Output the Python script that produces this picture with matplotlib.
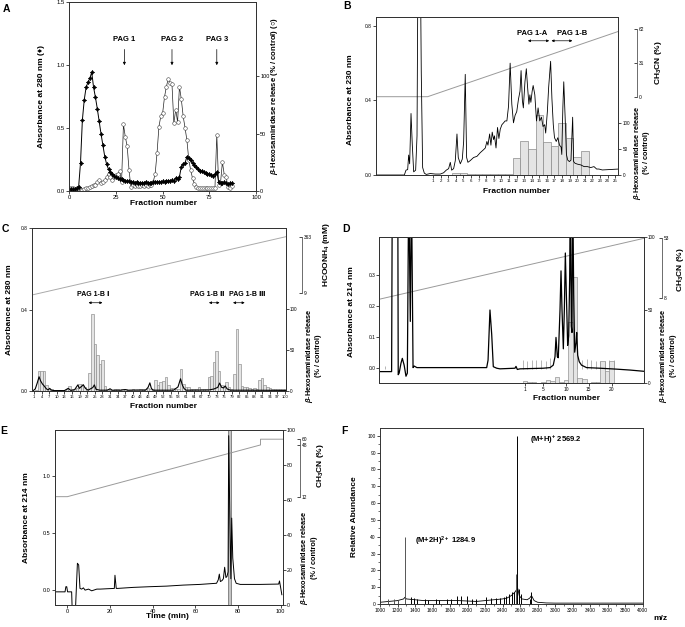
import numpy as np
import matplotlib
matplotlib.use("Agg")
import matplotlib.pyplot as plt
from matplotlib.ticker import FormatStrFormatter, MultipleLocator

plt.rcParams['font.family'] = ['Liberation Sans', 'DejaVu Sans']
plt.rcParams['mathtext.fontset'] = 'custom'
plt.rcParams['mathtext.rm'] = 'Liberation Sans:bold'
plt.rcParams['mathtext.it'] = 'Liberation Sans:italic:bold'
plt.rcParams['mathtext.bf'] = 'Liberation Sans:bold'

# ---------------- data ----------------
# Panel A : gel filtration
a_frac = list(range(0, 88))
a_abs280 = [0.01, 0.01, 0.01, 0.01, 0.02, 0.03, 0.22, 0.56, 0.72, 0.82,
            0.86, 0.89, 0.94, 0.82, 0.74, 0.65, 0.55, 0.45, 0.36, 0.27,
            0.21, 0.17, 0.15, 0.13, 0.12, 0.11, 0.10, 0.095, 0.09, 0.085,
            0.08, 0.075, 0.075, 0.07, 0.07, 0.065, 0.07, 0.065, 0.065, 0.06,
            0.065, 0.07, 0.065, 0.065, 0.06, 0.07, 0.07, 0.07, 0.07, 0.07,
            0.075, 0.07, 0.08, 0.075, 0.08, 0.085, 0.08, 0.10, 0.09, 0.11,
            0.19, 0.21, 0.22, 0.27, 0.26, 0.24, 0.22, 0.20, 0.19, 0.17,
            0.16, 0.155, 0.15, 0.14, 0.135, 0.13, 0.125, 0.12, 0.13, 0.15,
            0.07, 0.06, 0.06, 0.07, 0.06, 0.05, 0.06, 0.06]
a_hex = [2, 2, 2, 1.5, 2, 2, 1, 1, 1.5, 2,
         2.5, 3.5, 4, 5, 5, 8, 9, 7, 8, 9,
         12, 15, 12, 9, 12, 14, 15, 17, 8, 58,
         47, 39, 18, 3, 5, 4, 5, 4, 4, 5,
         4, 5, 4, 5, 5, 8, 15, 33, 56, 65,
         68, 82, 91, 98, 94, 93, 59, 71, 60, 91,
         80, 65, 55, 44, 27, 18, 11, 6, 3.5, 2,
         2, 2, 2, 2, 2, 2, 2, 2, 2, 49,
         5, 7, 25, 14, 12, 3, 2, 4]
a_pag_labels = ['PAG 1', 'PAG 2', 'PAG 3']
a_pag_frac = [29.5, 55, 79]

# Panel B : RP-HPLC (230 nm)
b_trace = [(-6.46, 0), (-2.77, 0), (-2.55, 0.026), (-2.33, 0.029), (-2.2, 0.107),
           (-2.07, 0.06), (-1.89, 0.33), (-1.72, 0.16), (-1.54, 0.017), (-1.28, 0.026),
           (-1.1, 0.21), (-0.97, 1.2), (-0.67, 1.2), (-0.54, 0.55), (-0.36, 0.04),
           (-0.14, 0.01), (0.12, 0.003), (0.65, 0.008), (1.3, 0.005), (1.96, 0.005),
           (2.4, 0.012), (2.75, 0.026), (3.06, 0.034), (3.28, 0.068), (3.46, 0.026),
           (3.72, 0.034), (3.94, 0.077), (4.16, 0.22), (4.33, 0.094), (4.6, 0.06),
           (4.86, 0.085), (5.04, 0.18), (5.25, 0.54), (5.43, 0.094), (5.6, 0.068),
           (5.9, 0.077), (6.35, 0.094), (6.79, 0.10), (7.23, 0.12), (7.67, 0.136),
           (7.89, 0.145), (8.1, 0.18), (8.24, 0.16), (8.46, 0.22), (8.63, 0.16),
           (8.8, 0.23), (8.98, 0.19), (9.1, 0.21), (9.3, 0.145), (9.5, 0.255),
           (9.68, 0.196), (9.86, 0.246), (10.08, 0.27), (10.3, 0.28), (10.5, 0.29),
           (10.73, 0.29), (10.95, 0.37), (11.16, 0.60), (11.38, 0.38), (11.6, 0.28),
           (11.81, 0.32), (12.03, 0.34), (12.25, 0.405), (12.46, 0.45), (12.6, 0.56),
           (12.77, 0.40), (12.9, 0.36), (13.11, 0.50), (13.29, 0.57), (13.46, 0.47),
           (13.63, 0.38), (13.76, 0.43), (13.89, 0.39), (14.06, 0.45), (14.19, 0.48),
           (14.41, 0.43), (14.63, 0.29), (14.84, 0.36), (15.06, 0.29), (15.28, 0.31),
           (15.49, 0.26), (15.71, 0.27), (15.84, 0.225), (16.06, 0.34), (16.23, 0.47),
           (16.49, 0.61), (16.66, 0.41), (16.84, 0.27), (17.0, 0.20), (17.23, 0.18),
           (17.44, 0.20), (17.66, 0.16), (17.87, 0.15), (17.96, 0.11), (18.1, 0.36),
           (18.22, 0.50), (18.4, 0.31), (18.57, 0.11), (18.74, 0.08), (18.96, 0.072),
           (19.17, 0.08), (19.39, 0.31), (19.52, 0.072), (19.7, 0.063), (20.04, 0.058),
           (20.47, 0.054), (20.9, 0.045), (21.34, 0.045), (21.77, 0.04), (22.2, 0.045),
           (22.55, 0.032), (22.85, 0.032), (23.29, 0.027), (25.45, 0.032)]
b_bar_frac = [4, 5, 6, 7, 8, 9, 10, 11, 12, 13, 14, 15, 16, 17, 18, 19, 20, 21]
b_bar_hex = [3, 3, 1, 1, 1, 1, 1, 1, 32, 64.5, 50, 115, 63, 55, 99, 72, 35, 46]
b_grad_frac = [-6.5, 0.3, 25.4]
b_grad_ch3cn = [0, 0, 60]
b_xticks = list(range(1, 26))

# Panel C : ion exchange
c_frac = list(range(1, 101))
c_hex = [0, 1, 24, 24, 24, 7, 3, 2, 1, 1,
         1, 1, 1, 2, 6, 2, 2, 4, 9, 8,
         5, 3, 22, 94, 58, 44, 33, 38, 6, 2,
         1, 1, 2, 2, 1, 2, 2, 1, 1, 2,
         1, 1, 2, 2, 3, 4, 3, 3, 13.5, 7,
         11, 12, 17.5, 7, 4, 4, 3, 3, 26.5, 9,
         5, 4.5, 3, 2, 2, 5, 3, 3, 3, 17,
         18.4, 36, 49, 24, 7, 6, 11, 4.5, 2, 21,
         75.5, 33, 6, 4.5, 5, 4, 2, 4, 3, 13.5,
         15.5, 7, 4.5, 4, 3, 3, 3, 2, 2, 2]
c_trace = [(0.5, 0.0), (1.5, 0.01), (2.3, 0.04), (3.0, 0.07), (3.6, 0.05), (4.3, 0.035),
           (5.0, 0.025), (5.8, 0.012), (6.5, 0.005), (7.2, 0.013), (7.9, 0.004), (9, 0.002),
           (13, 0.002), (14.5, 0.013), (15.5, 0.003), (17, 0.006), (18.3, 0.03), (18.9, 0.013),
           (19.5, 0.02), (20.5, 0.03), (21.3, 0.013), (22.3, 0.004), (24.2, 0.017), (24.8, 0.03),
           (25.5, 0.008), (27, 0.004), (30, 0.004), (31, 0.011), (31.8, 0.004), (35, 0.004),
           (37, 0.007), (38, 0.004), (42, 0.005), (45, 0.004), (46, 0.018), (46.7, 0.04),
           (47.3, 0.013), (48, 0.004), (50, 0.004), (56, 0.004), (57.8, 0.02), (58.8, 0.06),
           (59.5, 0.03), (60.2, 0.012), (61, 0.004), (70, 0.005), (72, 0.01), (73.5, 0.018),
           (74.2, 0.039), (75, 0.018), (75.8, 0.015), (76.4, 0.025), (77.2, 0.01), (78.5, 0.004),
           (85, 0.004), (100.4, 0.003)]
c_grad_frac = [0.1, 100.4]
c_grad_hcoonh4 = [-2, 367]
c_xticks = list(range(1, 101, 3))
c_pag_labels = ['PAG 1-B \u2160', 'PAG 1-B \u2161', 'PAG 1-B \u2162']
c_pag_center = [24.5, 69.5, 85.0]
c_pag_arrow = [(22.5, 28.0), (70.0, 74.2), (79.5, 84.1)]

# Panel D : RP-HPLC (214 nm)
d_trace = [(-30.95, -0.013), (-28.25, -0.013), (-28.1, 0.6), (-26.9, 0.6), (-26.8, -0.023),
           (-26.6, -0.018), (-26.2, 0.014), (-25.9, 0.03), (-25.5, 0.008), (-25.1, -0.028),
           (-24.8, -0.018), (-24.5, 0.6), (-24.15, 0.15), (-23.9, 0.6), (-23.55, 0.0),
           (-23.3, 0.005), (-22.7, 0.0), (-7.4, 0.0), (-7.1, 0.024), (-6.68, 0.187),
           (-6.3, 0.108), (-5.95, 0.003), (-5.2, -0.002), (-4.48, -0.004), (-1.19, -0.002),
           (-0.97, 0.004), (-0.68, -0.006), (-0.1, -0.004), (5.0, -0.002), (6.5, 0.0),
           (7.2, 0.008), (7.58, 0.035), (7.8, 0.098), (8.1, 0.035), (8.3, 0.032),
           (8.68, 0.187), (8.9, 0.314), (9.12, 0.187), (9.41, 0.061), (9.63, 0.187),
           (9.85, 0.372), (10.07, 0.24), (10.36, 0.072), (10.58, 0.103), (10.8, 0.29),
           (10.94, 0.6), (11.16, 0.135), (11.31, 0.114), (11.46, 0.6), (11.68, 0.24),
           (11.9, 0.05), (12.2, 0.082), (12.34, 0.114), (12.56, 0.04), (12.9, 0.019),
           (13.4, 0.008), (14.5, 0.0), (17.45, -0.002), (21.1, -0.005), (24.06, -0.008),
           (27.1, -0.012)]
d_bar_frac = [1, 2, 3, 5, 6, 7, 8, 9, 10, 11, 12, 13, 14, 16, 17, 18, 19, 20]
d_bar_hex = [1.5, 0.7, 0.3, 0.3, 2, 1.4, 4, 0.5, 1.8, 42, 73, 3, 2.3, 0.3, 0.2, 15, 8, 15]
d_mark_frac = [-29.8, 0.5, 1.5, 2.5, 3.5, 4.5, 5.5, 6.5, 12.5, 13.5, 14.5,
               15.5, 16.5, 17.5, 18.5, 19.5, 20.5]
d_mark_top = [0.005, 0.024, 0.022, 0.024, 0.024, 0.024, 0.022, 0.03, 0.045, 0.024, 0.028,
              0.024, 0.02, 0.022, 0.02, 0.024, 0.024]
d_grad_frac = [-30.95, 27.1]
d_grad_ch3cn = [7.3, 53]
d_xticks = [1, 5, 10, 15, 20]

# Panel E : final purification
e_trace = [(-5.8, -0.015), (-1.1, -0.015), (-0.7, 0.03), (-0.3, 0.03), (0.1, -0.015),
           (2.0, -0.015), (2.3, -0.2), (3.7, -0.2), (3.9, -0.12), (4.7, 0.235),
           (5.3, 0.22), (5.9, 0.015), (6.7, 0.009), (7.5, 0.02), (8.3, 0.0),
           (9.9, 0.009), (11.4, -0.006), (13.8, 0.009), (15.4, 0.009), (18.5, 0.012),
           (22.0, 0.015), (22.3, 0.13), (22.9, 0.015), (23.5, 0.015), (30.9, 0.024),
           (38.6, 0.03), (46.4, 0.035), (54.3, 0.044), (62.1, 0.05), (69.9, 0.06),
           (70.7, 0.09), (71.2, 0.14), (71.7, 0.075), (72.5, 0.084), (73.1, 0.10),
           (73.7, 0.20), (74.3, 0.11), (74.8, 0.12), (75.3, 0.16), (75.6, 1.35),
           (76.1, 0.66), (76.6, 0.10), (77.0, 0.63), (77.5, 0.28), (78.3, 0.10),
           (79.1, 0.06), (81, 0.05), (90.3, 0.05), (99, 0.053), (99.4, 0.08),
           (100, 0.015), (100.5, -0.04)]
e_bar_time = [75.8]
e_bar_hex = [100]
e_grad_time = [-5.8, 0, 90.5, 90.5, 100.9]
e_grad_ch3cn = [12, 12, 48, 60, 60]
e_ch3cn_ticks = [12, 48, 60]

# Panel F : mass spectrum
f_base_mz = [1000, 1100, 1200, 1270, 1285, 1300, 1400, 1500, 1700, 1900, 2100, 2200,
             2300, 2400, 2450, 2500, 2540, 2560, 2575, 2590, 2620, 2680, 2710, 2730,
             2760, 2800, 2900, 3000, 4000]
f_base_ab = [1, 1.5, 2, 3, 4, 3, 2.5, 2, 2, 2, 1.5, 2,
             2.5, 3, 3.5, 5, 7, 8.5, 9, 5, 3, 2.5, 3.5, 5,
             2, 1, 0.6, 0.5, 0.5]
f_peak_mz = [1097, 1161, 1211, 1284.9, 1352, 1390, 1428, 1515, 1553, 1637, 1675, 1770,
             1808, 1885, 1923, 1991, 2048, 2094, 2208, 2265, 2322, 2368, 2418, 2437,
             2475, 2505, 2532, 2551, 2569.2, 2589, 2608, 2711, 2730]
f_peak_ab = [3, 3, 2.5, 40, 4, 3.5, 3, 3, 2.5, 3, 2.5, 3,
             3, 4.5, 4.5, 5, 3, 3, 4, 3.5, 3.5, 3.5, 4, 4.5,
             6, 7, 7, 18, 100, 9, 6, 3, 7]

# ---------------- layout helpers ----------------
W, H = 685, 627
fig = plt.figure(figsize=(W / 100, H / 100), dpi=100)
fig.patch.set_facecolor('white')
PX2PT = 72 / 100


def rect(l, t, r, b):
    return [l / W, 1 - b / H, (r - l) / W, (b - t) / H]


def ftext(x, y, s, size=6.0, rot=0, weight='bold', **kw):
    fig.text(x / W, 1 - y / H, s, fontsize=size, rotation=rot, ha='center',
             va='center', fontweight=weight, **kw)


def style(ax, ls=4.0):
    ax.tick_params(direction='out', length=2, width=0.5, labelsize=ls, pad=1)
    for s in ax.spines.values():
        s.set_linewidth(0.7)
        s.set_color('#333333')


def third(ax, ylim, bounds, ticks, offset_px, labels=None, scale=None):
    a3 = ax.twinx()
    if scale is not None:
        a3.set_yscale('function', functions=scale)
    a3.set_ylim(*ylim)
    for s in ('top', 'bottom', 'left'):
        a3.spines[s].set_visible(False)
    a3.spines['right'].set_position(('outward', offset_px * PX2PT))
    a3.spines['right'].set_bounds(*bounds)
    a3.spines['right'].set_linewidth(0.6)
    a3.spines['right'].set_color('#555555')
    a3.set_yticks(ticks)
    if labels is not None:
        a3.set_yticklabels(labels)
    a3.tick_params(axis='y', direction='in', length=2, width=0.5, labelsize=3.5, pad=1.5)
    a3.set_zorder(2)
    return a3


def dbl_arrow(ax, x0, x1, y):
    ax.annotate('', xy=(x1, y), xytext=(x0, y),
                arrowprops=dict(arrowstyle='<|-|>', lw=0.5, color='k',
                                mutation_scale=3.5, shrinkA=0, shrinkB=0))


BAR_FC = '#e4e4e4'
BAR_EC = '#8a8a8a'
GRAD = '#9a9a9a'
beta_lbl = r'$\mathit{\beta}$-Hexosaminidase release'

# ---------------- Panel A ----------------
axA = fig.add_axes(rect(69.3, 1.5, 256, 190.7))
axA2 = axA.twinx()
axA.set_zorder(3)
axA.patch.set_visible(False)
axA2.plot(a_frac, a_hex, color='#222222', lw=0.5, marker='o', ms=2.6,
          mfc='white', mec='#444444', mew=0.4)
axA.plot(a_frac, a_abs280, color='k', lw=0.7, marker=(4, 1, 0), ms=3.2,
         mfc='k', mec='k', mew=0.4)
axA.set_xlim(0, 100)
axA.set_ylim(0, 1.5)
axA.set_xticks([0, 25, 50, 75, 100])
axA.set_yticks([0, 0.5, 1.0, 1.5])
axA.yaxis.set_major_formatter(FormatStrFormatter('%.1f'))
axA2.set_ylim(0, 165.5)
axA2.set_yticks([0, 50, 100])
style(axA, 4.2)
style(axA2, 4.0)
for lab, x in zip(a_pag_labels, a_pag_frac):
    axA.text(x, 1.2, lab, ha='center', va='center', fontsize=5.5, fontweight='bold')
    axA.annotate('', xy=(x, 0.995), xytext=(x, 1.12),
                 arrowprops=dict(arrowstyle='-|>', lw=0.5, color='k',
                                 mutation_scale=4, shrinkA=0, shrinkB=0))
ftext(41.7, 96.7, 'Absorbance at 280 nm (\u2666)', rot=90)
ftext(275, 96, beta_lbl + ' (% / control) (\u25cb)', rot=90, size=5.6)
ftext(163, 204, 'Fraction number')
ftext(6, 9, 'A', size=7.5)

# ---------------- Panel B ----------------
axB = fig.add_axes(rect(376, 17.3, 618.3, 175))
axB2 = axB.twinx()
axB3 = third(axB, (-72, 73), (0, 62), [0, 31, 62], 18.4)
axB.set_zorder(3)
axB.patch.set_visible(False)
axB2.bar(b_bar_frac, b_bar_hex, width=1.0, color=BAR_FC, edgecolor=BAR_EC, lw=0.5)
axB3.plot(b_grad_frac, b_grad_ch3cn, color=GRAD, lw=0.7)
bx, by = zip(*b_trace)
axB.plot(bx, by, color='k', lw=0.6)
axB.set_xlim(-6.5, 25.4)
axB.set_ylim(0, 0.846)
axB.set_yticks([0, 0.4, 0.8])
axB.yaxis.set_major_formatter(FormatStrFormatter('%.1f'))
axB.set_xticks(b_xticks)
axB2.set_ylim(0, 303)
axB2.set_yticks([0, 50, 100])
style(axB, 3.5)
style(axB2, 3.3)
axB.tick_params(axis='x', labelsize=3.2)
axB.text(14.0, 0.757, 'PAG 1-A', ha='center', va='center', fontsize=5.5, fontweight='bold')
axB.text(19.3, 0.757, 'PAG 1-B', ha='center', va='center', fontsize=5.5, fontweight='bold')
dbl_arrow(axB, 13.5, 16.3, 0.72)
dbl_arrow(axB, 16.6, 19.35, 0.72)
ftext(350, 100, 'Absorbance at 230 nm', rot=90)
ftext(658, 63, r'CH$_3$CN (%)', rot=90)
ftext(641, 153, beta_lbl + '\n(% / control)', rot=90, size=5.3, linespacing=1.1)
ftext(516.7, 191.7, 'Fraction number')
ftext(347, 6, 'B', size=7.5)

# ---------------- Panel C ----------------
axC = fig.add_axes(rect(31.7, 228.3, 286, 391))
axC2 = axC.twinx()
axC3 = third(axC, (-608.6, 419.9), (9, 363), [9, 363], 15.7)
axC.set_zorder(3)
axC.patch.set_visible(False)
axC2.bar(c_frac, c_hex, width=1.0, color=BAR_FC, edgecolor=BAR_EC, lw=0.45)
axC3.plot(c_grad_frac, c_grad_hcoonh4, color='#aaaaaa', lw=0.7)
cx, cy = zip(*c_trace)
axC.plot(cx, cy, color='k', lw=0.8)
axC.set_xlim(0.1, 100.4)
axC.set_ylim(0, 0.8)
axC.set_yticks([0, 0.4, 0.8])
axC.yaxis.set_major_formatter(FormatStrFormatter('%.1f'))
axC.set_xticks(c_xticks)
axC2.set_ylim(0, 199)
axC2.set_yticks([0, 50, 100])
style(axC, 3.5)
style(axC2, 3.3)
axC.tick_params(axis='x', labelsize=3.0)
for lab, xc, (x0, x1) in zip(c_pag_labels, c_pag_center, c_pag_arrow):
    axC.text(xc, 0.473, lab, ha='center', va='center', fontsize=5.0, fontweight='bold')
    dbl_arrow(axC, x0, x1, 0.434)
ftext(10, 310, 'Absorbance at 280 nm', rot=90)
ftext(326, 255, r'HCOONH$_4$ (mM)', rot=90)
ftext(313, 356, beta_lbl + '\n(% / control)', rot=90, size=5.3, linespacing=1.1)
ftext(163, 406.7, 'Fraction number')
ftext(5, 229, 'C', size=7.5)

# ---------------- Panel D ----------------
axD = fig.add_axes(rect(379.3, 237.3, 644, 382.7))
axD2 = axD.twinx()
axD3 = third(axD, (-55.3, 53.75), (8, 53), [8, 53], 17.7)
axD.set_zorder(3)
axD.patch.set_visible(False)
axD2.bar(d_bar_frac, d_bar_hex, width=1.0, color=BAR_FC, edgecolor=BAR_EC, lw=0.45)
axD3.plot(d_grad_frac, d_grad_ch3cn, color=GRAD, lw=0.7)
axD.vlines(d_mark_frac, -0.004, d_mark_top, color='#999999', lw=0.5)
dx, dy = zip(*d_trace)
axD.plot(dx, dy, color='k', lw=0.9)
axD.set_xlim(-30.95, 27.1)
axD.set_ylim(-0.049, 0.423)
axD.set_yticks([0, 0.1, 0.2, 0.3])
axD.yaxis.set_major_formatter(FormatStrFormatter('%.1f'))
axD.set_xticks(d_xticks)
axD2.set_ylim(0, 100)
axD2.set_yticks([0, 50, 100])
style(axD, 3.5)
style(axD2, 3.3)
ftext(351.7, 312, 'Absorbance at 214 nm', rot=90)
ftext(680, 270, r'CH$_3$CN (%)', rot=90)
ftext(667.5, 356, beta_lbl + '\n(% / control)', rot=90, size=5.3, linespacing=1.1)
ftext(566.7, 399, 'Fraction number')
ftext(346, 229, 'D', size=7.5)

# ---------------- Panel E ----------------
def e_fwd(v):
    v = np.asarray(v, dtype=float)
    return np.where(v <= 48, v, 48 + (v - 48) / 3.0)


def e_inv(p):
    p = np.asarray(p, dtype=float)
    return np.where(p <= 48, p, 48 + (p - 48) * 3.0)


axE = fig.add_axes(rect(55, 430, 282.7, 605))
axE2 = axE.twinx()
axE3 = third(axE, (-63.4, 79.2), (12, 60), e_ch3cn_ticks, 17.3, scale=(e_fwd, e_inv))
axE.set_zorder(3)
axE.patch.set_visible(False)
axE2.bar(e_bar_time, e_bar_hex, width=1.4, color='#c4c4c4', edgecolor='#777777', lw=0.6)
axE3.plot(e_grad_time, e_grad_ch3cn, color=GRAD, lw=0.7)
ex, ey = zip(*e_trace)
axE.plot(ex, ey, color='k', lw=0.7)
axE.set_xlim(-5.8, 100.9)
axE.set_ylim(-0.13, 1.40)
axE.set_xticks([0, 20, 40, 60, 80, 100])
axE.set_yticks([0, 0.5, 1.0])
axE.yaxis.set_major_formatter(FormatStrFormatter('%.1f'))
axE2.set_ylim(0, 100)
axE2.set_yticks([0, 20, 40, 60, 80, 100])
style(axE, 4.0)
style(axE2, 3.8)
ftext(27, 518, 'Absorbance at 214 nm', rot=90)
ftext(321, 466, r'CH$_3$CN (%)', rot=90)
ftext(308.5, 558, beta_lbl + '\n(% / control)', rot=90, size=5.3, linespacing=1.1)
ftext(167, 617, 'Time (min)')
ftext(4, 431, 'E', size=7.5)

# ---------------- Panel F ----------------
axF = fig.add_axes(rect(380, 427.7, 642.7, 604.3))
axF.plot(f_base_mz, f_base_ab, color='k', lw=0.6)
peak_cols = ['#555555' if (m < 1300 or 2540 < m < 2560) else 'k' for m in f_peak_mz]
axF.vlines(f_peak_mz, 0, f_peak_ab, colors=peak_cols, lw=0.7)
axF.set_xlim(1000, 4000)
axF.set_ylim(-0.2, 104.8)
axF.xaxis.set_major_locator(MultipleLocator(200))
axF.xaxis.set_minor_locator(MultipleLocator(100))
axF.yaxis.set_major_locator(MultipleLocator(10))
axF.yaxis.set_minor_locator(MultipleLocator(5))
style(axF, 3.5)
axF.tick_params(which='minor', direction='out', length=1.2, width=0.4)
axF.text(2713, 97.4, r'(M+H)$^{+}$ 2569.2', ha='left', va='center', fontsize=5.5, fontweight='bold')
axF.text(1400, 37, r'(M+2H)$^{2+}$ 1284.9', ha='left', va='center', fontsize=5.5, fontweight='bold')
ftext(354, 517, 'Relative Abundance', rot=90)
ftext(660, 619, 'm/z')
ftext(344, 431, 'F', size=7.5)

fig.savefig('out.png', dpi=100, facecolor='white')
